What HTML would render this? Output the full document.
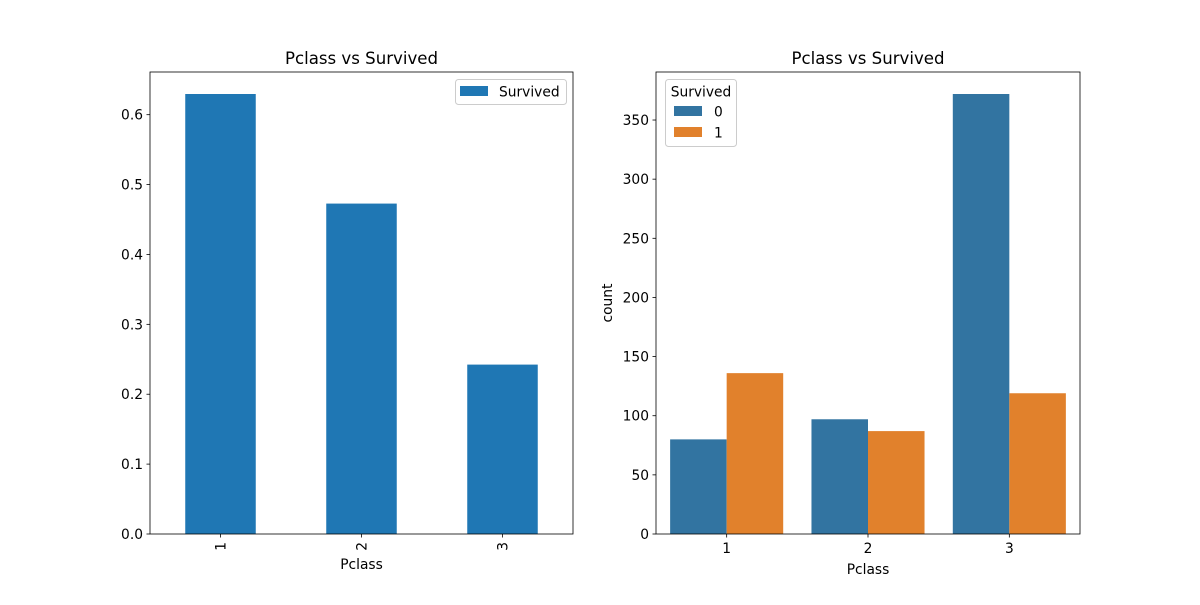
<!DOCTYPE html>
<html><head><meta charset="utf-8"><style>
body{margin:0;background:#fff;font-family:"Liberation Sans","DejaVu Sans",sans-serif}
svg text{font-family:"DejaVu Sans","Liberation Sans",sans-serif}
</style></head><body>
<svg id="c" width="1200" height="600" xmlns="http://www.w3.org/2000/svg"></svg>
<script>
const categories = ["1","2","3"];
const survivalRate = [0.6296, 0.4728, 0.2424];
const leftTicks = [0,0.1,0.2,0.3,0.4,0.5,0.6];
const died = [80, 97, 372];
const survived = [136, 87, 119];
const rightTicks = [0,50,100,150,200,250,300,350];

const FS = 13.8, TFS = 16.6;
const svg = document.getElementById('c');
const NS = 'http://www.w3.org/2000/svg';
function el(tag, attrs, parent, text){
  const e = document.createElementNS(NS, tag);
  for (const k in attrs) e.setAttribute(k, attrs[k]);
  if (text !== undefined) e.textContent = text;
  (parent || svg).appendChild(e);
  return e;
}
function axesFrame(x0,y0,x1,y1,name){
  const r = el('rect',{x:x0,y:y0,width:x1-x0,height:y1-y0,fill:'none',stroke:'#000','stroke-width':0.8});
  
  
}
// LEFT
const L = {x0:150,x1:573,y0:72,y1:534};
const lymax = 0.6296*1.05;
const ly = v => L.y1 - v/lymax*(L.y1-L.y0);
const lx = i => L.x0 + (i+0.5)/3*(L.x1-L.x0);
const lw = (L.x1-L.x0)/3;
survivalRate.forEach((v,i)=>{
  const b = el('rect',{x:lx(i)-lw/4,y:ly(v),width:lw/2,height:L.y1-ly(v),fill:'#1f77b4'});
  
  
});
axesFrame(L.x0,L.y0,L.x1,L.y1,'left-plot-frame');
leftTicks.forEach(t=>{
  const y = ly(t);
  el('line',{x1:L.x0-3.5,x2:L.x0,y1:y,y2:y,stroke:'#000','stroke-width':0.8});
  const tx = el('text',{x:L.x0-7,y:y+5,'text-anchor':'end','font-size':FS},svg,t.toFixed(1));
  
  
});
categories.forEach((c,i)=>{
  const x = lx(i);
  el('line',{x1:x,x2:x,y1:L.y1,y2:L.y1+3.5,stroke:'#000','stroke-width':0.8});
  const tx = el('text',{x:x+5,y:L.y1+8,'text-anchor':'end','font-size':FS,transform:`rotate(-90 ${x+5} ${L.y1+8})`},svg,c);
  
  
});
let t;
t = el('text',{x:(L.x0+L.x1)/2,y:569,'text-anchor':'middle','font-size':FS},svg,'Pclass');
 
t = el('text',{x:(L.x0+L.x1)/2,y:64,'text-anchor':'middle','font-size':TFS},svg,'Pclass vs Survived');
 
const lg = el('g',{});
 
el('rect',{x:455.5,y:79.5,width:111,height:25,rx:3,fill:'#fff',stroke:'#ccc'},lg);
el('rect',{x:460,y:86,width:28,height:10,fill:'#1f77b4'},lg);
el('text',{x:499,y:96.5,'font-size':FS},lg,'Survived');

// RIGHT
const R = {x0:656,x1:1080,y0:72,y1:534};
const rymax = 372*1.05;
const ry = v => R.y1 - v/rymax*(R.y1-R.y0);
const rx = i => R.x0 + (i+0.5)/3*(R.x1-R.x0);
const rw = (R.x1-R.x0)/3*0.4;
categories.forEach((c,i)=>{
  const b0 = el('rect',{x:rx(i)-rw,y:ry(died[i]),width:rw,height:R.y1-ry(died[i]),fill:'#3274a1'});
  
  
  const b1 = el('rect',{x:rx(i),y:ry(survived[i]),width:rw,height:R.y1-ry(survived[i]),fill:'#e1812c'});
  
  
});
axesFrame(R.x0,R.y0,R.x1,R.y1,'right-plot-frame');
rightTicks.forEach(v=>{
  const y = ry(v);
  el('line',{x1:R.x0-3.5,x2:R.x0,y1:y,y2:y,stroke:'#000','stroke-width':0.8});
  const tx = el('text',{x:R.x0-7,y:y+5,'text-anchor':'end','font-size':FS},svg,String(v));
  
  
});
categories.forEach((c,i)=>{
  const x = rx(i);
  el('line',{x1:x,x2:x,y1:R.y1,y2:R.y1+3.5,stroke:'#000','stroke-width':0.8});
  const tx = el('text',{x:x,y:R.y1+19,'text-anchor':'middle','font-size':FS},svg,c);
  
  
});
t = el('text',{x:(R.x0+R.x1)/2,y:574,'text-anchor':'middle','font-size':FS},svg,'Pclass');
 
t = el('text',{x:612,y:303,'text-anchor':'middle','font-size':FS,transform:'rotate(-90 612 303)'},svg,'count');
 
t = el('text',{x:(R.x0+R.x1)/2,y:64,'text-anchor':'middle','font-size':TFS},svg,'Pclass vs Survived');
 
const rg = el('g',{});
 
el('rect',{x:665.5,y:79.5,width:71,height:67,rx:3,fill:'#fff',stroke:'#ccc'},rg);
el('text',{x:701,y:96.5,'text-anchor':'middle','font-size':FS},rg,'Survived');
el('rect',{x:674,y:106,width:28,height:10,fill:'#3274a1'},rg);
el('text',{x:714,y:116.5,'font-size':FS},rg,'0');
el('rect',{x:674,y:127,width:28,height:10,fill:'#e1812c'},rg);
el('text',{x:714,y:137.5,'font-size':FS},rg,'1');
</script>
</body></html>
